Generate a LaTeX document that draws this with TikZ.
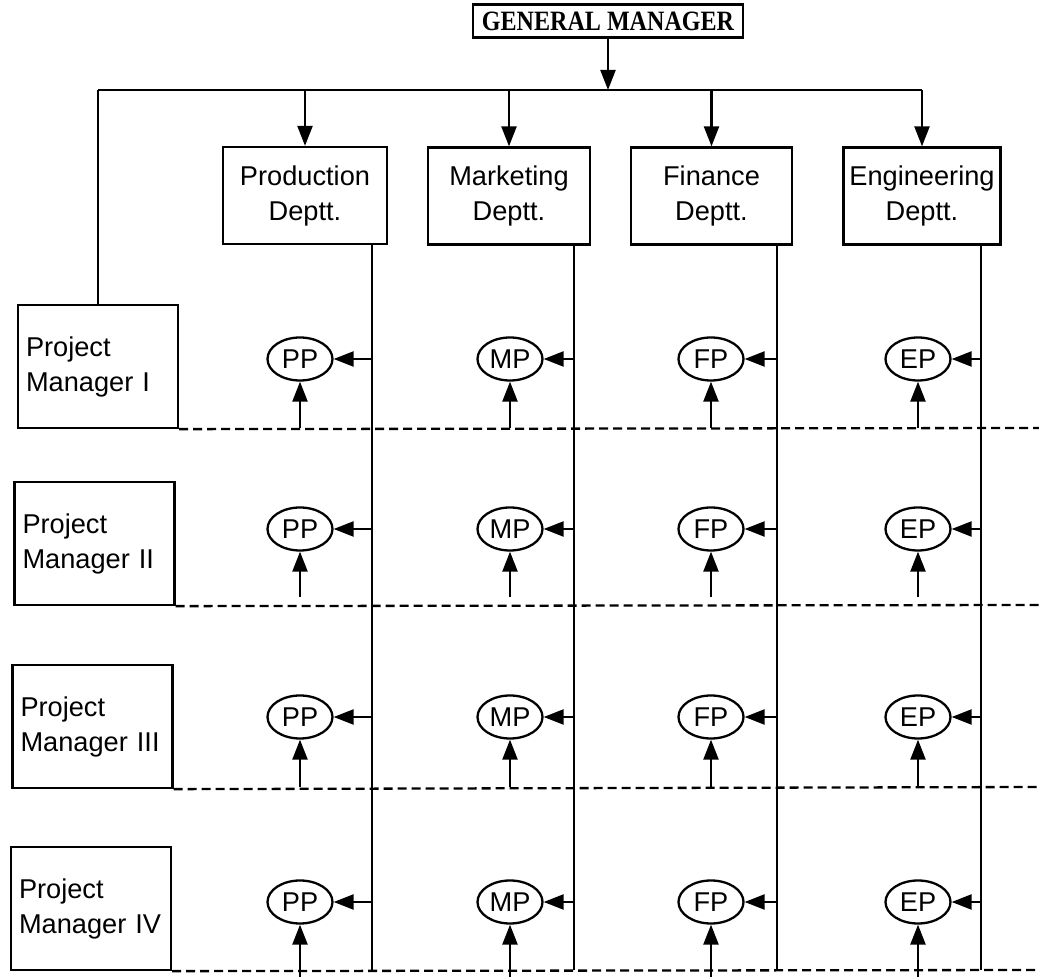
\documentclass[tikz,border=0pt]{standalone}
\usepackage{graphicx}
\usepackage{fontspec}
\setmainfont{Liberation Sans}
\newfontfamily\gmfont{Liberation Serif}
\usetikzlibrary{arrows.meta,shapes.geometric}
\begin{document}
\begin{tikzpicture}[x=0.5pt,y=-0.5pt,
  line width=1.15pt,
  tip/.style={-{Triangle[length=10pt,width=7.5pt]}},
  gmbox/.style={draw,line width=1.3pt,minimum width=135pt,minimum height=16.5pt,inner sep=0pt,
    font=\gmfont\bfseries\fontsize{14}{16}\selectfont},
  dept/.style={draw,minimum height=48.5pt,inner sep=0pt,align=center,
    font=\fontsize{13.6}{17.5}\selectfont},
  pm/.style={draw,minimum height=61.5pt,text width=72pt,inner xsep=4pt,inner ysep=0pt,align=left,
    font=\fontsize{13.6}{17.5}\selectfont},
  pe/.style={draw,ellipse,minimum width=32.5pt,minimum height=21.5pt,inner sep=0pt,
    font=\fontsize{13.6}{16}\selectfont},
  sep/.style={dash pattern=on 4.5pt off 2.5pt}
]
\useasboundingbox (0,0) rectangle (1039,977);

% General manager
\node[gmbox] (gm) at (608,21) {\scalebox{0.86}[1]{GENERAL MANAGER}};
\coordinate (j) at (608,90);
\draw[tip] (gm.south) -- (j);

% Departments
\node[dept,minimum width=82pt] (prod) at (305,195.5) {Production\\Deptt.};
\node[dept,minimum width=81pt] (mark) at (509,196) {Marketing\\Deptt.};
\node[dept,minimum width=80.5pt] (fin) at (711.5,196) {Finance\\Deptt.};
\node[dept,minimum width=78.5pt] (eng) at (922,196) {Engineering\\Deptt.};

% Project managers
\node[pm] (pm1) at (98,366.5) {Project\\Manager I};
\node[pm] (pm2) at (94.5,543.5) {Project\\Manager II};
\node[pm] (pm3) at (92.5,726.5) {Project\\Manager III};
\node[pm] (pm4) at (91,908.5) {Project\\Manager IV};

% top distribution line
\draw (pm1.north |- j) -- (eng.north |- j);
\draw (pm1.north |- j) -- (pm1.north);
\foreach \d in {prod,mark,fin,eng} {
  \draw[tip] (\d.north |- j) -- (\d.north);
}

% department vertical lines
\coordinate (vp) at (372,970);
\coordinate (vm) at (574,970);
\coordinate (vf) at (777,970);
\coordinate (ve) at (981,970);
\draw (prod.south -| vp) -- (vp);
\draw (mark.south -| vm) -- (vm);
\draw (fin.south -| vf) -- (vf);
\draw (eng.south -| ve) -- (ve);

% dashed separators
\coordinate (d1) at (1039,428);
\coordinate (d2) at (1039,605);
\coordinate (d3) at (1039,787);
\coordinate (d4) at (1039,970);
\draw[sep] (pm1.south east) -- (d1);
\draw[sep] (pm2.south east) -- (d2);
\draw[sep] (pm3.south east) -- (d3);
\draw[sep] (pm4.south east) -- (d4);

% project cells
\foreach \r/\y/\b in {1/359/428, 2/529/597, 3/717/787, 4/902/977} {
  \foreach \c/\x/\lab/\vx in {1/300/PP/372, 2/510/MP/574, 3/711/FP/777, 4/918/EP/981} {
    \node[pe] (e\r\c) at (\x,\y) {\lab};
    \coordinate (h\r\c) at (\vx,\y);
    \coordinate (s\r\c) at (\x,\b);
    \draw[tip] (h\r\c) -- (e\r\c.east);
    \draw[tip] (s\r\c) -- (e\r\c.south);
  }
}
\end{tikzpicture}
\end{document}
